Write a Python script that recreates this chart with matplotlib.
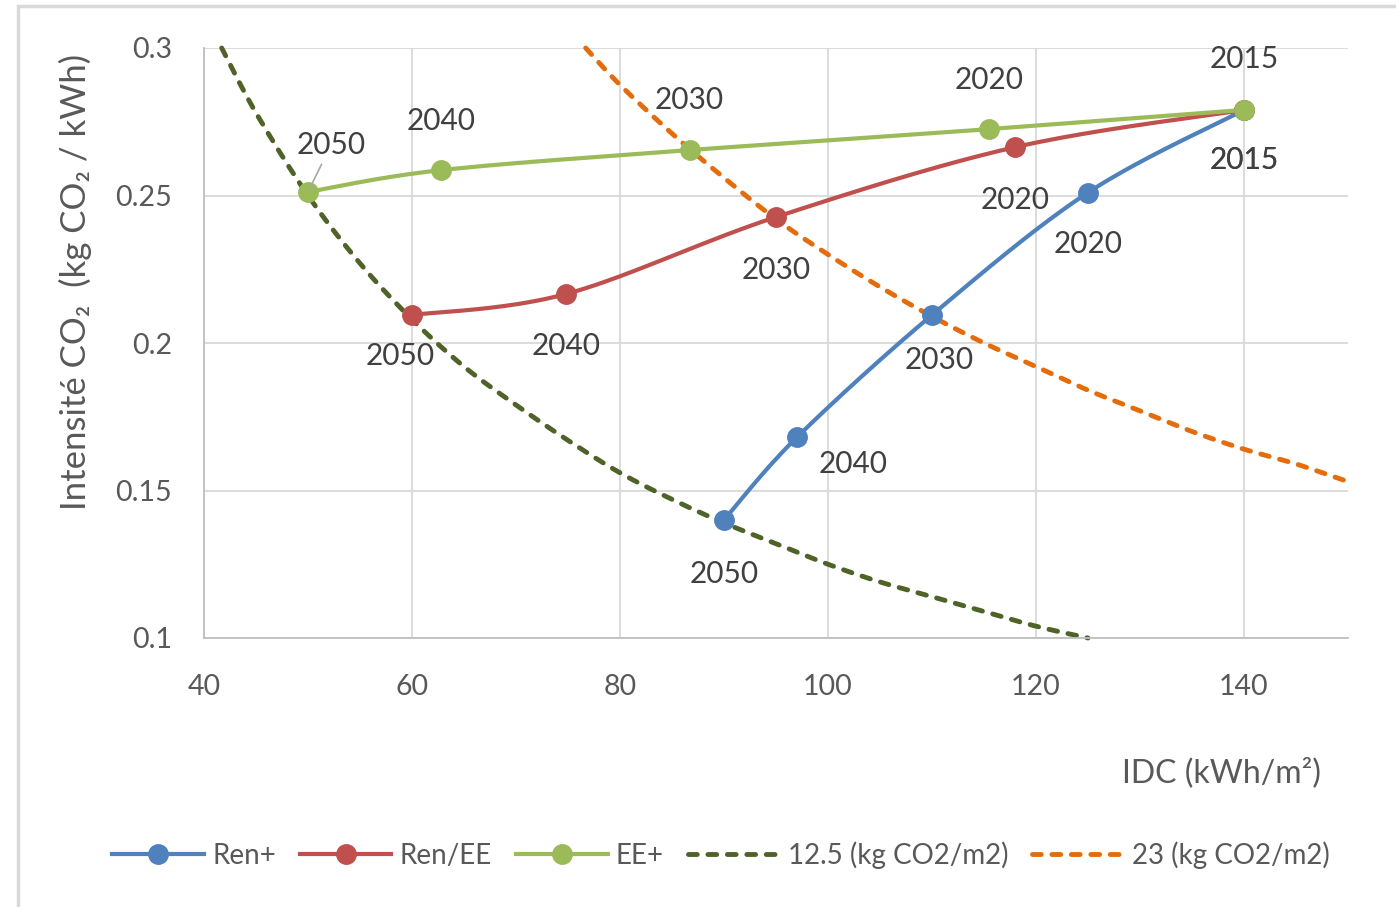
import numpy as np
import matplotlib
matplotlib.use('Agg')
import matplotlib.pyplot as plt
from matplotlib.patches import Rectangle
from matplotlib.lines import Line2D

plt.rcParams['font.family'] = ['Lato', 'DejaVu Sans']

# data
years = ['2015', '2020', '2030', '2040', '2050']

ren_x = [140, 125, 110, 97, 90]
ren_y = [0.279, 0.251, 0.2095, 0.168, 0.140]

renee_x = [140, 118, 95, 74.8, 60]
renee_y = [0.279, 0.2664, 0.2427, 0.2166, 0.2095]

ee_x = [140, 115.5, 86.7, 62.8, 50]
ee_y = [0.279, 0.2725, 0.2654, 0.2586, 0.2512]

c125_x = [41.7, 45, 50, 55, 60, 65, 70, 75, 80, 85, 90, 95, 100, 105, 110, 115, 120, 125]
c125_y = [0.3, 0.278, 0.25, 0.227, 0.208, 0.192, 0.179, 0.167, 0.156, 0.147, 0.139,
          0.132, 0.125, 0.119, 0.114, 0.109, 0.104, 0.1]

c23_x = [76.7, 80, 85, 90, 95, 100, 105, 110, 115, 120, 125, 130, 135, 140, 145, 150]
c23_y = [0.3, 0.2875, 0.271, 0.256, 0.242, 0.23, 0.219, 0.209, 0.2, 0.192, 0.184,
         0.177, 0.170, 0.164, 0.159, 0.153]

# label offsets in pixels (layout only)
ren_off = [(0, -50), (0, -51), (7, -45), (56, -27), (0, -54)]
renee_off = [(0, -50), (0, -53), (0, -53), (0, -52), (-12, -41)]
ee_off = [(0, 51), (0, 49), (0, 50), (0, 49), (23, 47)]

BLUE = '#4F81BD'
RED = '#C0504D'
GREEN = '#9BBB59'
DKGREEN = '#4F6228'
ORANGE = '#E46C0A'
GRID = '#D9D9D9'
TXT = '#595959'
LBL = '#404040'

W, H = 1396, 907
X0, X1, Y0, Y1 = 40, 150, 0.1, 0.3
L, R, T, B = 204, 1348, 48, 638


def smooth(x, y, n=40):
    # excel-like smoothed line, computed in pixel-proportional space
    sx = (R - L) / (X1 - X0)
    sy = (B - T) / (Y1 - Y0)
    P = np.column_stack([np.asarray(x, float) * sx, np.asarray(y, float) * sy])
    out = [P[0]]
    for i in range(len(P) - 1):
        p0 = P[i - 1] if i > 0 else P[i]
        p1 = P[i]
        p2 = P[i + 1]
        p3 = P[i + 2] if i + 2 < len(P) else P[i + 1]
        c1 = p1 + (p2 - p0) / 6
        c2 = p2 - (p3 - p1) / 6
        t = np.linspace(0, 1, n)[1:, None]
        seg = ((1 - t) ** 3) * p1 + 3 * ((1 - t) ** 2) * t * c1 + 3 * (1 - t) * t * t * c2 + t ** 3 * p2
        out.extend(seg)
    out = np.array(out)
    return out[:, 0] / sx, out[:, 1] / sy


fig = plt.figure(figsize=(W / 100, H / 100), dpi=100)
fig.patches.append(Rectangle((18 / W, -0.2), 1.2, 1.2 - 6 / H, transform=fig.transFigure,
                             fill=False, edgecolor=GRID, linewidth=2.5, zorder=0))

ax = fig.add_axes([L / W, 1 - B / H, (R - L) / W, (B - T) / H])
ax.set_xlim(X0, X1)
ax.set_ylim(Y0, Y1)
ax.set_xticks([40, 60, 80, 100, 120, 140])
ax.set_yticks([0.1, 0.15, 0.2, 0.25, 0.3])
ax.set_yticklabels(['0.1', '0.15', '0.2', '0.25', '0.3'])
ax.grid(True, color=GRID, linewidth=1.3)
ax.set_axisbelow(True)
for s in ['top', 'right']:
    ax.spines[s].set_visible(False)
for s in ['left', 'bottom']:
    ax.spines[s].set_color('#BFBFBF')
    ax.spines[s].set_linewidth(1.3)
ax.tick_params(length=0, labelsize=20.5, labelcolor=TXT)
ax.tick_params(axis='y', pad=23)
ax.tick_params(axis='x', pad=26)

dash = (0, (1.8, 2.2))
xs, ys = smooth(c125_x, c125_y)
ax.plot(xs, ys, color=DKGREEN, lw=3.5, linestyle=dash, dash_capstyle='round', clip_on=False, zorder=2)
xs, ys = smooth(c23_x, c23_y)
ax.plot(xs, ys, color=ORANGE, lw=3.5, linestyle=dash, dash_capstyle='round', clip_on=False, zorder=2)

for x, y, c in [(ren_x, ren_y, BLUE), (renee_x, renee_y, RED), (ee_x, ee_y, GREEN)]:
    xs, ys = smooth(x, y)
    ax.plot(xs, ys, color=c, lw=3.0, solid_capstyle='round', zorder=3, clip_on=False)
    ax.plot(x, y, 'o', color=c, ms=14, zorder=4, clip_on=False)

for x, y, off in [(ren_x, ren_y, ren_off), (renee_x, renee_y, renee_off), (ee_x, ee_y, ee_off)]:
    for i, yr in enumerate(years):
        kw = {}
        if x is ee_x and yr == '2050':
            kw = dict(arrowprops=dict(arrowstyle='-', color='#A6A6A6', lw=1.2, shrinkA=2, shrinkB=3))
        ax.annotate(yr, (x[i], y[i]), xytext=off[i], textcoords='offset pixels',
                    ha='center', va='center', fontsize=21.5, color=LBL, zorder=5, **kw)

fig.text(75 / W, 1 - 282 / H, 'Intensité CO₂  (kg CO₂ / kWh)', rotation=90,
         ha='center', va='center', fontsize=25, color=TXT)
fig.text(1222 / W, 1 - 773 / H, 'IDC (kWh/m²)', ha='center', va='center', fontsize=23, color=TXT)

handles = [
    Line2D([], [], color=BLUE, lw=3.0, marker='o', ms=14),
    Line2D([], [], color=RED, lw=3.0, marker='o', ms=14),
    Line2D([], [], color=GREEN, lw=3.0, marker='o', ms=14),
    Line2D([], [], color=DKGREEN, lw=3.5, linestyle=dash, dash_capstyle='round'),
    Line2D([], [], color=ORANGE, lw=3.5, linestyle=dash, dash_capstyle='round'),
]
names = ['Ren+', 'Ren/EE', 'EE+', '12.5 (kg CO2/m2)', '23 (kg CO2/m2)']
leg = fig.legend(handles, names, loc='center', bbox_to_anchor=(0.5165, 1 - 855 / H), ncol=5,
                 frameon=False, fontsize=20, handlelength=3.3, handletextpad=0.3,
                 columnspacing=0.86)
for t in leg.get_texts():
    t.set_color(TXT)

fig.savefig('out.png', dpi=100, facecolor='white')
